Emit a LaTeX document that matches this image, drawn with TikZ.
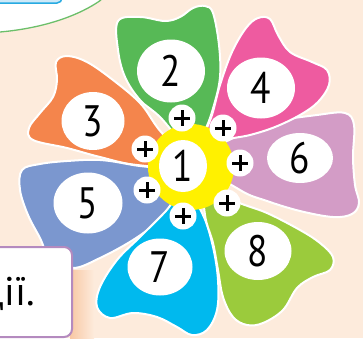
\documentclass[tikz,border=0pt]{standalone}
\usepackage{fontspec}
\setmainfont{PT Sans}
\newfontfamily\digitfont[FakeStretch=0.85]{PT Sans}
\usetikzlibrary{shapes.geometric,positioning,calc}
\definecolor{bgPeach}{HTML}{FDEBDC}
\definecolor{shadePeach}{HTML}{F8C8A4}
\definecolor{arcGreen}{HTML}{6CBF6A}
\definecolor{boxBlue}{HTML}{CDE9F8}
\definecolor{lineBlue}{HTML}{27AAE1}
\definecolor{boxPurple}{HTML}{B48ABF}
\definecolor{coreYellow}{HTML}{FFF100}
\definecolor{petGreen}{HTML}{57B956}
\definecolor{petPink}{HTML}{EE5BA0}
\definecolor{petOrange}{HTML}{F4854C}
\definecolor{petLilac}{HTML}{D39CC6}
\definecolor{petBlue}{HTML}{7B97CF}
\definecolor{petCyan}{HTML}{00B9EE}
\definecolor{petLime}{HTML}{9BCB3C}

\begin{document}
\begin{tikzpicture}[x=1pt, y=-1pt,
    petal/.style={draw=white, line width=2pt, fill=#1},
    blob/.style={ellipse, fill=white, inner sep=0pt,
                 font=\digitfont\fontsize{44}{44}\selectfont},
    plus/.style={circle, fill=white, minimum size=27pt, inner sep=0pt,
      path picture={\draw[line width=3pt]
        ($(path picture bounding box.center)+(-8,0)$) -- ++(16,0)
        ($(path picture bounding box.center)+(0,-8)$) -- ++(0,16);}}]

  \useasboundingbox (0,0) rectangle (363,338);
  \clip (0,0) rectangle (363,338);
  \fill[bgPeach] (0,0) rectangle (363,338);
  \shade[left color=shadePeach, right color=bgPeach] (70,270) rectangle (94,338);

  %% top-left corner: bubble and blue frame
  \fill[white] (0,0) -- (0,32) .. controls (45,28) and (80,15) .. (101,0) -- cycle;
  \draw[arcGreen, line width=1.3pt] (0,32) .. controls (45,28) and (80,15) .. (101,0);
  \draw[lineBlue, fill=boxBlue, line width=1.5pt, rounded corners=5pt]
    (-20,-20) rectangle (62,3);

  %% ── Petals ──────────────────────────────────────────────
  \draw[petal=petOrange] plot[smooth cycle, tension=0.6] coordinates {
    (185,165) (157,127) (140,103) (113,80) (87,62) (67,56) (56,62) (57,80)
    (53,97) (40,113) (29,128) (33,140) (67,148) (100,157) (137,165)};
  \draw[petal=petBlue] plot[smooth cycle, tension=0.6] coordinates {
    (185,175) (133,165) (100,160) (67,161) (40,164) (22,170) (20,190)
    (28,215) (40,238) (50,258) (73,268) (100,258) (133,240) (160,220) (172,205)};
  \draw[petal=petCyan] plot[smooth cycle, tension=0.6] coordinates {
    (185,190) (165,212) (140,237) (117,260) (100,287) (97,307) (110,318)
    (133,313) (157,317) (177,327) (192,335) (207,330) (217,310) (218,280)
    (213,247) (203,215)};
  \draw[petal=petLime] plot[smooth cycle, tension=0.6] coordinates {
    (205,180) (233,200) (267,213) (300,230) (320,243) (333,257) (330,270)
    (313,277) (297,288) (283,310) (263,323) (247,325) (233,317) (223,297)
    (218,270) (213,243) (205,215)};
  \draw[petal=petLilac] plot[smooth cycle, tension=0.6] coordinates {
    (200,160) (233,138) (267,123) (317,115) (345,113) (354,125) (353,157)
    (355,185) (359,203) (352,214) (333,217) (300,211) (267,201) (240,190)};
  \draw[petal=petPink] plot[smooth cycle, tension=0.6] coordinates {
    (200,150) (212,115) (220,85) (232,52) (246,28) (258,18) (270,19)
    (278,35) (290,52) (312,62) (327,70) (329,85) (318,102) (300,115)
    (275,127) (250,135) (225,140)};
  \draw[petal=petGreen] plot[smooth cycle, tension=0.6] coordinates {
    (191,150) (160,117) (140,100) (125,77) (118,50) (118,21) (140,17)
    (165,21) (180,17) (193,8) (205,6) (213,13) (219,45) (220,77)
    (214,105) (205,130)};

  %% ── Centre ──────────────────────────────────────────────
  \node[circle, fill=coreYellow, minimum size=86pt] (core) at (191,167) {};
  \foreach \x/\y [count=\i] in {182/118, 223/128, 240/163, 227/203,
                                183/216, 147/190, 145/149}{
    \node[plus] (p\i) at (\x,\y) {};
  }

  %% numbers on white blobs
  \foreach \n/\x/\y/\w/\h in {1/183/166/48/52, 2/171/71/68/63, 3/93/121/63/58,
      4/261/88/68/61, 5/88/203/69/61, 6/300/158/66/50, 7/160/267/65/57,
      8/258/251/67/58}{
    \node[blob, minimum width=\w pt, minimum height=\h pt] (n\n) at (\x,\y) {\n};
  }

  %% bottom-left task box
  \draw[boxPurple, fill=white, line width=2pt, rounded corners=8pt]
    (-20,247) rectangle (72,337);
  \node[anchor=base east, inner sep=0pt, font=\fontsize{40}{40}\selectfont]
    (task) at (35,305) {дії.};

\end{tikzpicture}
\end{document}
